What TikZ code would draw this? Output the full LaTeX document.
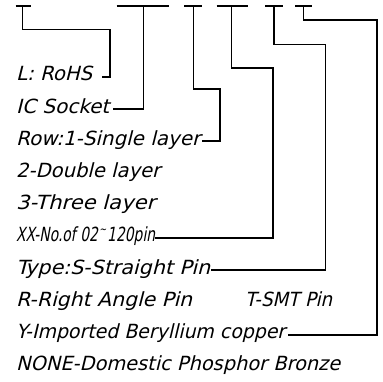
\documentclass[tikz,border=0pt]{standalone}
\usepackage{fontspec}
\usepackage{graphicx}
\setmainfont{DejaVu Sans Condensed}[FakeSlant=0.22]
\newcommand{\fitw}[2]{\resizebox{#1}{\height}{#2}}
\begin{document}
\begin{tikzpicture}[x=1pt,y=-1pt,
  lbl/.style={anchor=base west,inner sep=0pt,font=\fontsize{19.5}{22}\selectfont},
  ln/.style={line width=1.2pt,line join=miter,line cap=butt}]
\useasboundingbox (0,0) rectangle (383,382);
% texts
\node[lbl] (t1) at (16,81) {\fitw{76pt}{L: RoHS}};
\node[lbl] (t2) at (16,113.2) {\fitw{93pt}{IC Socket}};
\node[lbl] (t3) at (16,145.4) {\fitw{184pt}{Row:1-Single layer}};
\node[lbl] (t4) at (16,177.6) {\fitw{144pt}{2-Double layer}};
\node[lbl] (t5) at (16,209.8) {\fitw{139pt}{3-Three layer}};
\node[lbl] (t6) at (16,242) {\fitw{139pt}{XX-No.of 02\kern0.1em\raisebox{0.45em}{\scalebox{0.6}{\textasciitilde}}\kern0.05em120pin}};
\node[lbl] (t7) at (16,274.2) {\fitw{194pt}{Type:S-Straight Pin}};
\node[lbl] (t8) at (16,306.4) {\fitw{176pt}{R-Right Angle Pin}};
\node[lbl] (t8b) at (245,306.4) {\fitw{87pt}{T-SMT Pin}};
\node[lbl] (t9) at (16,338.6) {\fitw{269pt}{Y-Imported Beryllium copper}};
\node[lbl] (t10) at (16,370.8) {\fitw{324pt}{NONE-Domestic Phosphor Bronze}};
% top bars
\coordinate (a1) at (15.7,6); \coordinate (b1) at (31,6);
\coordinate (a2) at (116.7,6); \coordinate (b2) at (169.3,6);
\coordinate (a3) at (184,6); \coordinate (b3) at (201.7,6);
\coordinate (a4) at (216.7,6); \coordinate (b4) at (247.7,6);
\coordinate (a5) at (265,6); \coordinate (b5) at (283.3,6);
\coordinate (a6) at (295,6); \coordinate (b6) at (311.7,6);
\foreach \i in {1,...,6}{\draw[ln] (a\i) -- (b\i);}
% connectors
\coordinate (s1) at (22.7,6);  \coordinate (e1) at (102,77);
\coordinate (s2) at (143.3,6); \coordinate (e2) at (113,109);
\coordinate (s3) at (193.3,6); \coordinate (e3) at (202,141);
\coordinate (s4) at (231.7,6); \coordinate (e4) at (155,238);
\coordinate (s5) at (274,6);   \coordinate (e5) at (211,270);
\coordinate (s6) at (303.3,6); \coordinate (e6) at (288,335);
\draw[ln] (s1) |- (110,29.3) |- (e1);
\draw[ln] (s2) |- (e2);
\draw[ln] (s3) |- (220,89) |- (e3);
\draw[ln] (s4) |- (273,68) |- (e4);
\draw[ln] (s5) |- (325.7,44.3) |- (e5);
\draw[ln] (s6) |- (377,20) |- (e6);
\end{tikzpicture}
\end{document}
